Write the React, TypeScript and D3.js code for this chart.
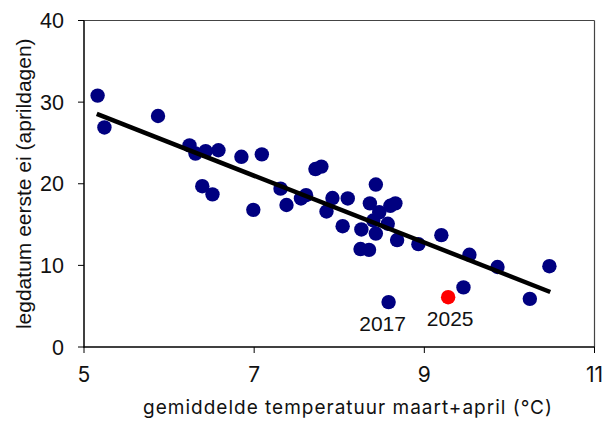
import * as d3 from "d3";
import React from "react";

// gemiddelde temperatuur maart+april (°C) vs legdatum eerste ei (aprildagen)
const temps = [
  5.16, 5.24, 5.87, 6.24, 6.31, 6.43, 6.58, 6.85, 7.09, 6.39, 6.51, 6.99, 7.72,
  7.79, 7.31, 7.38, 7.55, 7.61, 7.92, 7.85, 8.1, 8.04, 8.43, 8.36, 8.6, 8.66,
  8.47, 8.4, 8.57, 8.26, 8.43, 8.68, 8.93, 9.2, 9.53, 8.25, 8.35, 9.86, 10.47,
  10.24, 9.46, 8.58,
];
const layDates = [
  30.8, 26.9, 28.3, 24.7, 23.7, 24.0, 24.1, 23.3, 23.6, 19.7, 18.7, 16.8, 21.8,
  22.1, 19.4, 17.4, 18.2, 18.6, 18.25, 16.6, 18.2, 14.8, 19.9, 17.6, 17.3, 17.6,
  16.5, 15.5, 15.1, 14.4, 13.9, 13.1, 12.6, 13.7, 11.3, 12.0, 11.9, 9.8, 9.9,
  5.9, 7.3, 5.5,
];
// 2025 apart in rood
const highlight = { temp: 9.28, day: 6.1 };
const labelYears = ["2017", "2025"];
const labelTemps = [8.58, 9.28];
const labelDays = [5.5, 6.1];
const trendTemps = [5.15, 10.48];
const trendDays = [28.55, 6.74];
const xTicks = [5, 7, 9, 11];
const yTicks = [0, 10, 20, 30, 40];

const width = 611;
const height = 422;
const margin = { left: 84, right: 16.5, top: 20.5, bottom: 75 };

const x = d3.scaleLinear().domain([5, 11]).range([margin.left, width - margin.right]);
const y = d3.scaleLinear().domain([0, 40]).range([height - margin.bottom, margin.top]);

const trendLine = d3
  .line<number>()
  .x((d) => x(d))
  .y((_, i) => y(trendDays[i]));

// label verschuiving t.o.v. het punt
const labelDx = [-6, 2];

const arial = "'Liberation Sans', Arial, sans-serif";
const inter = "Inter, 'Noto Sans', sans-serif";

const App = () => {
  const [x0, x1] = x.range();
  const [y0, y1] = y.range();
  return (
    <svg
      width={width}
      height={height}
      style={{ position: "absolute", left: 0, top: 0, background: "#fff" }}
    >
      {/* kader */}
      <line x1={x0} x2={x1} y1={y1} y2={y1} stroke="#444" strokeWidth={1.2} />
      <line x1={x1} x2={x1} y1={y1} y2={y0} stroke="#444" strokeWidth={1.2} />
      <line x1={x0} x2={x0} y1={y1} y2={y0 + 0.5} stroke="#000" strokeWidth={1.5} />
      <line x1={x0 - 0.5} x2={x1} y1={y0} y2={y0} stroke="#000" strokeWidth={1.5} />

      {yTicks.map((t) => (
        <g key={"y" + t}>
          <line x1={x0 - 6} x2={x0} y1={y(t)} y2={y(t)} stroke="#000" strokeWidth={1} />
          <text
            x={x0 - 20}
            y={y(t)}
            dy="0.36em"
            textAnchor="end"
            fontFamily={arial}
            fontSize={21.5}
            fill="#111"
          >
            {t}
          </text>
        </g>
      ))}
      {xTicks.map((t) => (
        <g key={"x" + t}>
          <line x1={x(t)} x2={x(t)} y1={y0} y2={y0 + 6} stroke="#000" strokeWidth={1} />
          <text
            x={x(t)}
            y={y0 + 35}
            textAnchor="middle"
            fontFamily={inter}
            fontSize={21}
            fill="#111"
          >
            {t}
          </text>
        </g>
      ))}

      {temps.map((t, i) => (
        <circle key={i} cx={x(t)} cy={y(layDates[i])} r={7.2} fill="#000080" />
      ))}
      <circle cx={x(highlight.temp)} cy={y(highlight.day)} r={7.2} fill="#ff0000" />

      <path d={trendLine(trendTemps) ?? ""} fill="none" stroke="#000" strokeWidth={4.5} />

      {labelYears.map((l, i) => (
        <text
          key={l}
          x={x(labelTemps[i]) + labelDx[i]}
          y={y(labelDays[i]) + 29}
          textAnchor="middle"
          fontFamily={arial}
          fontSize={21}
          fill="#111"
        >
          {l}
        </text>
      ))}

      <text
        x={348}
        y={414}
        textAnchor="middle"
        fontFamily={inter}
        fontSize={19}
        letterSpacing={1}
        fill="#111"
      >
        gemiddelde temperatuur maart+april (°C)
      </text>
      <text
        transform={`translate(31, ${(y0 + y1) / 2}) rotate(-90)`}
        textAnchor="middle"
        fontFamily={arial}
        fontSize={21}
        fill="#111"
      >
        legdatum eerste ei (aprildagen)
      </text>
    </svg>
  );
};

export default App;
